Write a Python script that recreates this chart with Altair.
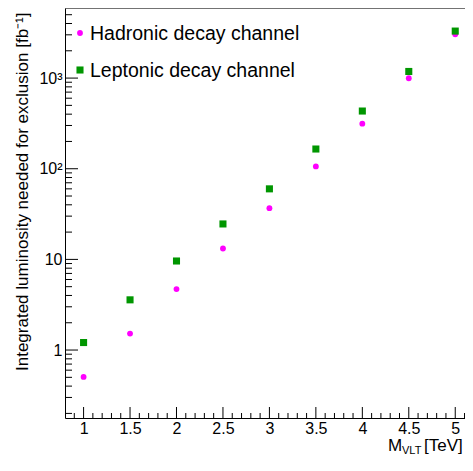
import altair as alt
import pandas as pd

# ---- data ----
mass_tev = [1.0, 1.5, 2.0, 2.5, 3.0, 3.5, 4.0, 4.5, 5.0]
lumi_hadronic = [0.505, 1.52, 4.7, 13.2, 36.7, 106, 314, 995, 3040]
lumi_leptonic = [1.21, 3.58, 9.6, 24.6, 60, 165, 433, 1183, 3300]
series_names = ["Hadronic decay channel", "Leptonic decay channel"]

x_major_ticks = [1.0, 1.5, 2.0, 2.5, 3.0, 3.5, 4.0, 4.5, 5.0]
x_minor_ticks = [0.9, 1.1, 1.2, 1.3, 1.4, 1.6, 1.7, 1.8, 1.9, 2.1, 2.2, 2.3, 2.4,
                 2.6, 2.7, 2.8, 2.9, 3.1, 3.2, 3.3, 3.4, 3.6, 3.7, 3.8, 3.9,
                 4.1, 4.2, 4.3, 4.4, 4.6, 4.7, 4.8, 4.9, 5.1]
y_major_ticks = [1, 10, 100, 1000]
y_minor_ticks = [0.2, 0.3, 0.4, 0.5, 0.6, 0.7, 0.8, 0.9,
                 2, 3, 4, 5, 6, 7, 8, 9,
                 20, 30, 40, 50, 60, 70, 80, 90,
                 200, 300, 400, 500, 600, 700, 800, 900,
                 2000, 3000, 4000, 5000]
x_title_parts = ["M", "VLT", "[TeV]"]
y_title = "Integrated luminosity needed for exclusion [fb\u207b\u00b9]"

FONT = "Liberation Sans"
W, H = 400, 410

xscale = alt.Scale(domain=[0.8, 5.105], nice=False, zero=False)
yscale = alt.Scale(type="log", domain=[0.178, 5930], nice=False)

x_axis = alt.Axis(values=x_major_ticks, format="~g", title="", ticks=False, tickSize=0,
                  grid=False, labelFontSize=16, labelFont=FONT, labelColor="black",
                  labelPadding=2, labelOverlap=False, labelFlush=False,
                  domainColor="black", domainWidth=1)
y_axis = alt.Axis(values=y_major_ticks, ticks=False, tickSize=0, grid=False,
                  labelExpr="datum.value == 1000 ? '10\u00b3' : datum.value == 100 ? '10\u00b2' : datum.value == 10 ? '10' : '1'",
                  labelFontSize=16, labelFont=FONT, labelColor="black", labelPadding=3,
                  labelOverlap=False, labelFlush=False,
                  domainColor="black", domainWidth=1,
                  title=y_title, titleFontSize=17, titleFont=FONT, titleFontWeight="normal",
                  titleColor="black", titleAngle=270, titleX=-43, titleY=4,
                  titleAlign="right", titleBaseline="middle")


def X(field="m"):
    return alt.X(f"{field}:Q", scale=xscale, axis=x_axis)


def Y(field="v"):
    return alt.Y(f"{field}:Q", scale=yscale, axis=y_axis)


had_df = pd.DataFrame({"m": mass_tev, "v": lumi_hadronic})
lep_df = pd.DataFrame({"m": mass_tev, "v": lumi_leptonic})

had = alt.Chart(had_df).mark_point(shape="circle", filled=True, opacity=1, size=34,
                                   color="#ff00ff").encode(x=X(), y=Y())
lep = alt.Chart(lep_df).mark_point(shape="square", filled=True, opacity=1, size=50,
                                   color="#009600").encode(x=X(), y=Y())

# inward ticks (ROOT style)
ymaj = alt.Chart(pd.DataFrame({"v": y_major_ticks})).mark_rule(color="black", strokeWidth=1).encode(
    y=Y(), x=alt.value(0), x2=alt.value(13))
ymin = alt.Chart(pd.DataFrame({"v": y_minor_ticks})).mark_rule(color="black", strokeWidth=1).encode(
    y=Y(), x=alt.value(0), x2=alt.value(7))
xmaj = alt.Chart(pd.DataFrame({"m": x_major_ticks})).mark_rule(color="black", strokeWidth=1).encode(
    x=X(), y=alt.value(H), y2=alt.value(H - 11))
xmin = alt.Chart(pd.DataFrame({"m": x_minor_ticks})).mark_rule(color="black", strokeWidth=1).encode(
    x=X(), y=alt.value(H), y2=alt.value(H - 5))

# top frame line
top_line = alt.Chart(pd.DataFrame({"t": ["frame"]})).mark_rule(color="#444444", strokeWidth=1.5).encode(
    x=alt.value(0), x2=alt.value(W + 10), y=alt.value(0))

# legend
leg_had_pt = alt.Chart(pd.DataFrame({"t": [series_names[0]]})).mark_point(
    shape="circle", filled=True, opacity=1, size=34, color="#ff00ff").encode(
    x=alt.value(15), y=alt.value(25))
leg_lep_pt = alt.Chart(pd.DataFrame({"t": [series_names[1]]})).mark_point(
    shape="square", filled=True, opacity=1, size=50, color="#009600").encode(
    x=alt.value(15), y=alt.value(62))
leg_had_tx = alt.Chart(pd.DataFrame({"t": [series_names[0]]})).mark_text(
    align="left", baseline="middle", font=FONT, fontSize=19.5, color="black").encode(
    text="t:N", x=alt.value(25), y=alt.value(26))
leg_lep_tx = alt.Chart(pd.DataFrame({"t": [series_names[1]]})).mark_text(
    align="left", baseline="middle", font=FONT, fontSize=19.5, color="black").encode(
    text="t:N", x=alt.value(25), y=alt.value(63))

# x title with subscript
xt_m = alt.Chart(pd.DataFrame({"t": [x_title_parts[0]]})).mark_text(
    align="left", baseline="alphabetic", font=FONT, fontSize=17, color="black").encode(
    text="t:N", x=alt.value(323), y=alt.value(443))
xt_sub = alt.Chart(pd.DataFrame({"t": [x_title_parts[1]]})).mark_text(
    align="left", baseline="alphabetic", font=FONT, fontSize=11, color="black").encode(
    text="t:N", x=alt.value(337), y=alt.value(446))
xt_unit = alt.Chart(pd.DataFrame({"t": [x_title_parts[2]]})).mark_text(
    align="left", baseline="alphabetic", font=FONT, fontSize=17, color="black").encode(
    text="t:N", x=alt.value(359), y=alt.value(443))

chart = alt.layer(
    had, lep, ymaj, ymin, xmaj, xmin, top_line,
    leg_had_pt, leg_lep_pt, leg_had_tx, leg_lep_tx,
    xt_m, xt_sub, xt_unit,
).properties(
    width=W, height=H,
    autosize=alt.AutoSizeParams(type="none"),
    padding={"left": 57, "top": 0, "right": 0, "bottom": 40},
    background="white",
).configure_view(strokeWidth=0)

chart.save("out.html", embed_options={"renderer": "svg", "actions": False})
